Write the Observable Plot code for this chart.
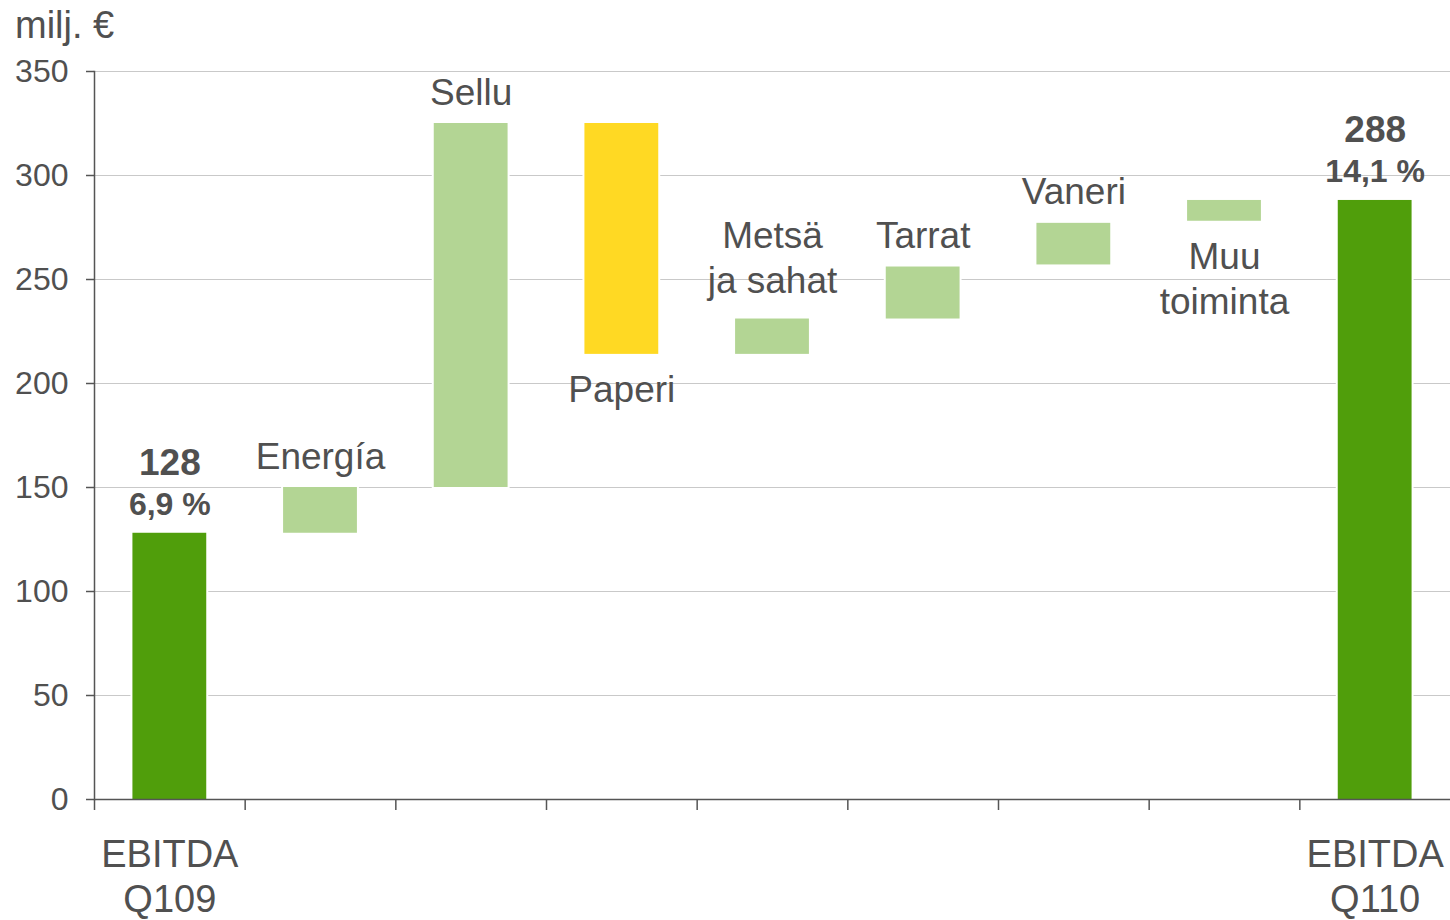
<!DOCTYPE html>
<html>
<head>
<meta charset="utf-8">
<script src="https://cdn.jsdelivr.net/npm/d3@7"></script>
<script src="https://cdn.jsdelivr.net/npm/@observablehq/plot@0.6"></script>
<style>
  html, body { margin: 0; padding: 0; background: white; }
  #wrap { position: relative; width: 1450px; height: 920px; font-family: "Liberation Sans", Arial, sans-serif; overflow: hidden; }
  #unit { position: absolute; left: 15px; top: 6px; font-size: 38px; line-height: 38px; color: #505050; }
  #chart { position: absolute; left: 0; top: 0; }
</style>
</head>
<body>
<div id="wrap">
  <div id="chart"></div>
  <div id="unit">milj. €</div>
</div>
<script>
const categories = ["EBITDA Q109", "Energía", "Sellu", "Paperi", "Metsä ja sahat", "Tarrat", "Vaneri", "Muu toiminta", "EBITDA Q110"];
const barLabels = ["", "Energía", "Sellu", "Paperi", "Metsä\nja sahat", "Tarrat", "Vaneri", "Muu\ntoiminta", ""];
const axisLabels = ["EBITDA\nQ109", "", "", "", "", "", "", "", "EBITDA\nQ110"];
const startValues = [0, 128, 150, 325, 214, 231, 257, 278, 0];
const endValues = [128, 150, 325, 214, 231, 256, 277, 288, 288];
const kinds = ["total", "increase", "increase", "decrease", "increase", "increase", "increase", "increase", "total"];
const labelSides = ["above", "above", "above", "below", "above", "above", "above", "below", "above"];
const totalLabels = ["128", "", "", "", "", "", "", "", "288"];
const marginLabels = ["6,9 %", "", "", "", "", "", "", "", "14,1 %"];
const yTicks = [0, 50, 100, 150, 200, 250, 300, 350];

const rows = categories.map((c, i) => ({
  category: c,
  start: startValues[i],
  end: endValues[i],
  kind: kinds[i],
  label: barLabels[i],
  side: labelSides[i],
  axisLabel: axisLabels[i],
  total: totalLabels[i],
  margin: marginLabels[i],
  top: Math.max(startValues[i], endValues[i]),
  bottom: Math.min(startValues[i], endValues[i])
}));

const W = 1450, H = 920, ML = 94, MR = 0, MT = 71, MB = 121;
const step = (W - ML - MR) / categories.length;
const textColor = "#505050";
const axisColor = "#555555";
const multi = d => d.label.includes("\n");

const chart = Plot.plot({
  width: W,
  height: H,
  marginLeft: ML,
  marginRight: MR,
  marginTop: MT,
  marginBottom: MB,
  style: { fontFamily: "Liberation Sans, Arial, sans-serif", background: "white", overflow: "visible" },
  x: { domain: categories, paddingInner: 0.51, paddingOuter: 0.255, round: false, axis: null },
  y: { domain: [0, 350], axis: null },
  color: { domain: ["total", "increase", "decrease"], range: ["#509e0b", "#b3d594", "#ffd923"] },
  marks: [
    Plot.gridY(yTicks.slice(1), { stroke: "#c9c9c9", strokeOpacity: 1, strokeWidth: 1 }),
    Plot.rectY(rows, { x: "category", y1: "start", y2: "end", fill: "white", insetLeft: -2, insetRight: -2, insetTop: -2, insetBottom: -2 }),
    Plot.rectY(rows, { x: "category", y1: "start", y2: "end", fill: "kind" }),
    Plot.axisY({ ticks: yTicks, tickSize: 8, tickPadding: 18, fontSize: 32, color: axisColor, fill: textColor, label: null, strokeWidth: 1.5 }),
    Plot.frame({ anchor: "left", stroke: axisColor, strokeWidth: 1.5 }),
    Plot.ruleY([0], { stroke: axisColor, strokeWidth: 1.5 }),
    Plot.axisX({ ticks: categories, tickSize: 11, tickFormat: () => "", dx: -step / 2, stroke: axisColor, strokeWidth: 1.5, label: null }),
    Plot.text(rows.filter(d => d.axisLabel), { x: "category", text: "axisLabel", frameAnchor: "bottom", lineAnchor: "top", dy: 36, fontSize: 38, lineHeight: 1.18, fill: textColor }),
    Plot.text(rows.filter(d => d.label && d.side === "above" && !multi(d)), { x: "category", y: "top", text: "label", lineAnchor: "bottom", dy: -19, fontSize: 37, lineHeight: 1.22, fill: textColor }),
    Plot.text(rows.filter(d => d.label && d.side === "above" && multi(d)), { x: "category", y: "top", text: "label", lineAnchor: "bottom", dy: -26, fontSize: 37, lineHeight: 1.22, fill: textColor }),
    Plot.text(rows.filter(d => d.label && d.side === "below"), { x: "category", y: "bottom", text: "label", lineAnchor: "top", dy: 16, fontSize: 37, lineHeight: 1.22, fill: textColor }),
    Plot.text(rows.filter(d => d.total), { x: "category", y: "top", text: "total", lineAnchor: "bottom", dy: -58, fontSize: 37, fontWeight: "bold", fill: textColor }),
    Plot.text(rows.filter(d => d.margin), { x: "category", y: "top", text: "margin", lineAnchor: "bottom", dy: -18, fontSize: 32, fontWeight: "bold", fill: textColor })
  ]
});
document.getElementById("chart").appendChild(chart);
</script>
</body>
</html>
